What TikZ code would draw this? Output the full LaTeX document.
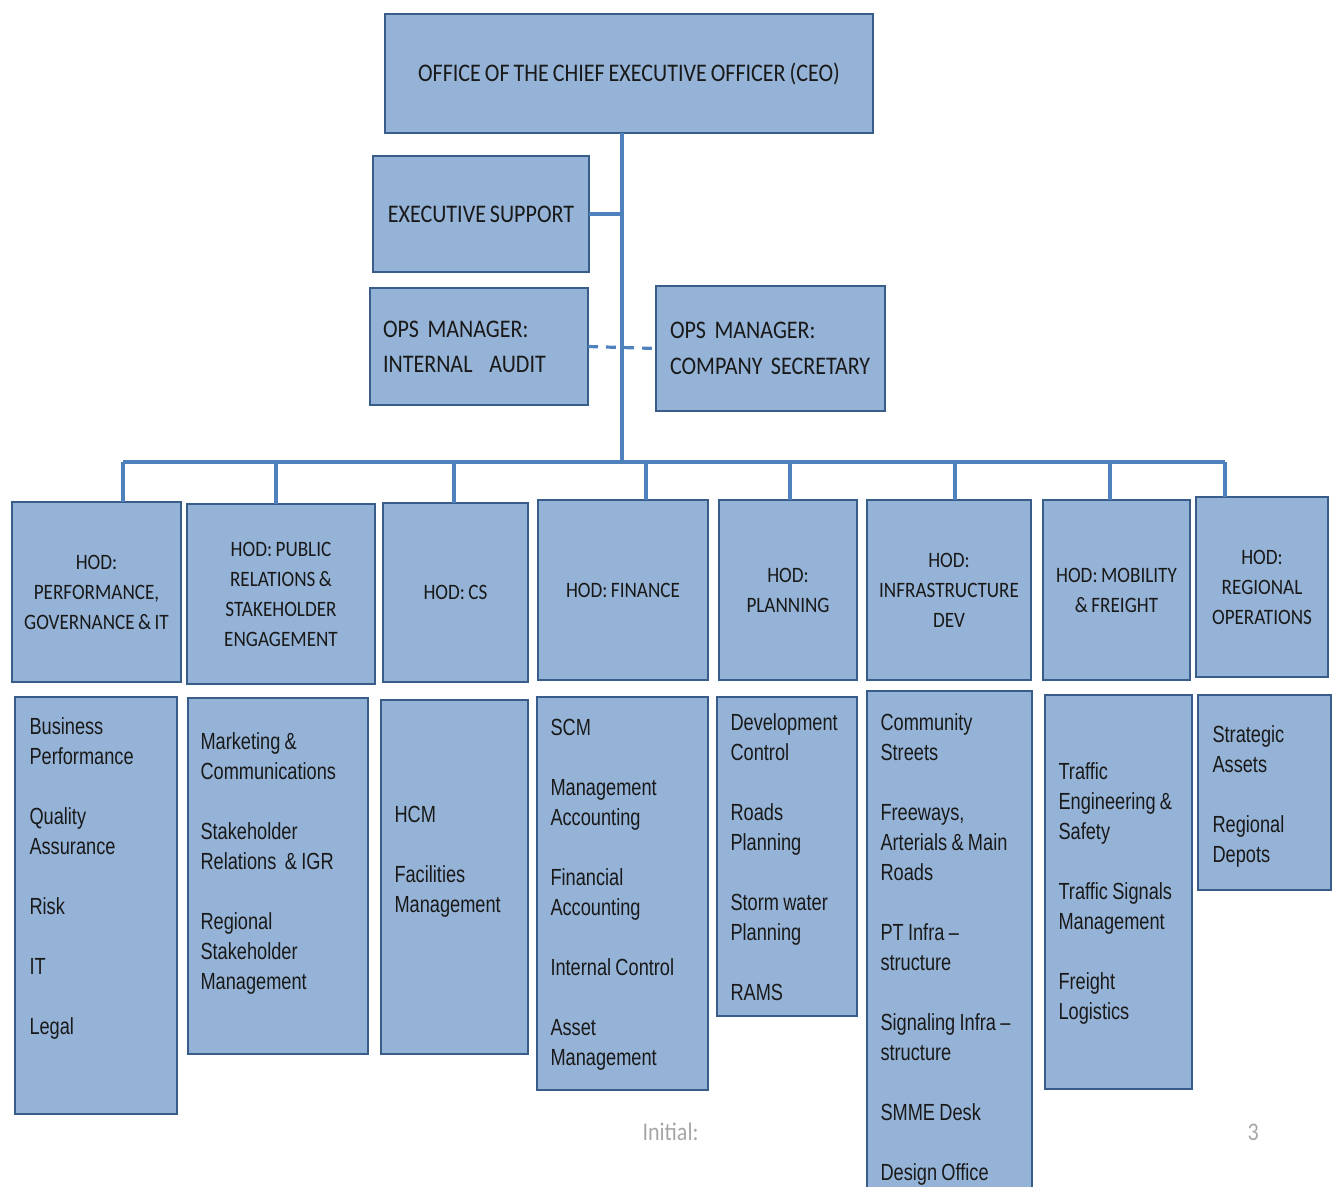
\documentclass[tikz,border=0pt]{standalone}
\usepackage{fontspec}
\setmainfont{Carlito}[FakeStretch=0.87, WordSpace=0.8]
\newfontfamily\listfont{Liberation Sans}[FakeStretch=0.78, WordSpace=0.85]

\definecolor{boxfill}{HTML}{95B3D7}
\definecolor{boxline}{HTML}{385D8A}
\definecolor{linkline}{HTML}{4F81BD}
\definecolor{footgray}{HTML}{A6A6A6}

\tikzset{every picture/.style={line width=0.75pt}}
\tikzset{
  unitbox/.style={draw=boxline, fill=boxfill, line width=2pt, inner sep=0pt, outer sep=0pt, anchor=north west, text=black!90},
  headtext/.style={font=\fontsize{19}{26}\selectfont, align=center},
  hodtext/.style={font=\fontsize{16.5}{22.5}\selectfont, align=center},
  listtext/.style={font=\listfont\fontsize{17.5}{22.5}\selectfont, align=left, anchor=north west, inner sep=0pt, text=black!90},
  link/.style={draw=linkline, line width=2.4pt},
}

\begin{document}
\begin{tikzpicture}[x=0.75pt,y=0.75pt,yscale=-1,xscale=1]
\useasboundingbox (0,0) rectangle (1335,1187);

%Shape: Rectangle [CEO]
\node [unitbox, headtext, minimum width={(873-385)*0.75pt}, minimum height={(133-14)*0.75pt}] (ceo) at (385,14) {OFFICE OF THE CHIEF EXECUTIVE OFFICER (CEO)};
%Shape: Rectangle [executive support]
\node [unitbox, headtext, minimum width={(589-373)*0.75pt}, minimum height={(272-156)*0.75pt}] (exec) at (373,156) {EXECUTIVE SUPPORT};
%Shape: Rectangle [internal audit]
\node [unitbox, font=\fontsize{19}{26.25}\selectfont, align=left, inner xsep=9.75pt, text width={(218-26)*0.75pt}, minimum height={(405-288)*0.75pt}] (audit) at (370,288) {OPS MANAGER:\\INTERNAL~ AUDIT};
%Shape: Rectangle [company secretary]
\node [unitbox, font=\fontsize{19}{27}\selectfont, align=left, inner xsep=10.5pt, text width={(229-28)*0.75pt}, minimum height={(411-286)*0.75pt}] (secretary) at (656,286) {OPS MANAGER:\\COMPANY SECRETARY};

% HOD row
\node [unitbox, hodtext, minimum width={(181-12)*0.75pt}, minimum height={180*0.75pt}] (perf) at (12,502) {HOD:\\PERFORMANCE,\\GOVERNANCE \& IT};
\node [unitbox, hodtext, minimum width={(375-187)*0.75pt}, minimum height={180*0.75pt}] (pr) at (187,504) {HOD: PUBLIC\\RELATIONS \&\\STAKEHOLDER\\ENGAGEMENT};
\node [unitbox, hodtext, minimum width={(528-383)*0.75pt}, minimum height={179*0.75pt}] (cs) at (383,503) {HOD: CS};
\node [unitbox, hodtext, minimum width={(708-538)*0.75pt}, minimum height={180*0.75pt}] (finance) at (538,500) {HOD: FINANCE};
\node [unitbox, hodtext, minimum width={(857-719)*0.75pt}, minimum height={180*0.75pt}] (planning) at (719,500) {HOD:\\PLANNING};
\node [unitbox, hodtext, minimum width={(1031-867)*0.75pt}, minimum height={180*0.75pt}] (infra) at (867,500) {HOD:\\INFRASTRUCTURE\\DEV};
\node [unitbox, hodtext, minimum width={(1190-1043)*0.75pt}, minimum height={180*0.75pt}] (mobility) at (1043,500) {HOD: MOBILITY\\\& FREIGHT};
\node [unitbox, hodtext, minimum width={(1328-1196)*0.75pt}, minimum height={180*0.75pt}] (regional) at (1196,497) {HOD:\\REGIONAL\\OPERATIONS};

% Unit boxes
\node [unitbox, minimum width={(177-15)*0.75pt}, minimum height={(1114-697)*0.75pt}] (perfunits) at (15,697) {};
\node [unitbox, minimum width={(368-188)*0.75pt}, minimum height={(1054-698)*0.75pt}] (prunits) at (188,698) {};
\node [unitbox, minimum width={(528-381)*0.75pt}, minimum height={(1054-700)*0.75pt}] (csunits) at (381,700) {};
\node [unitbox, minimum width={(708-537)*0.75pt}, minimum height={(1090-697)*0.75pt}] (financeunits) at (537,697) {};
\node [unitbox, minimum width={(857-717)*0.75pt}, minimum height={(1016-697)*0.75pt}] (planningunits) at (717,697) {};
\node [unitbox, minimum width={(1032-867)*0.75pt}, minimum height={(1200-691)*0.75pt}] (infraunits) at (867,691) {};
\node [unitbox, minimum width={(1192-1045)*0.75pt}, minimum height={(1089-695)*0.75pt}] (mobilityunits) at (1045,695) {};
\node [unitbox, minimum width={(1331-1198)*0.75pt}, minimum height={(890-695)*0.75pt}] (regionalunits) at (1198,695) {};

% Text Node
\node [listtext] (perflist) at (29,717) {Business\\Performance\\[22.5pt]Quality\\Assurance\\[22.5pt]Risk\\[22.5pt]IT\\[22.5pt]Legal};
% Text Node
\node [listtext] (prlist) at (200,732) {Marketing \&\\Communications\\[22.5pt]Stakeholder\\Relations~ \& IGR\\[22.5pt]Regional\\Stakeholder\\Management};
% Text Node
\node [listtext] (cslist) at (394,806) {HCM\\[22.5pt]Facilities\\Management};
% Text Node
\node [listtext] (financelist) at (550,719) {SCM\\[22.5pt]Management\\Accounting\\[22.5pt]Financial\\Accounting\\[22.5pt]Internal Control\\[22.5pt]Asset\\Management};
% Text Node
\node [listtext] (planninglist) at (730,713) {Development\\Control\\[22.5pt]Roads\\Planning\\[22.5pt]Storm water\\Planning\\[22.5pt]RAMS};
% Text Node
\node [listtext] (infralist) at (880,713) {Community\\Streets\\[22.5pt]Freeways,\\Arterials \& Main\\Roads\\[22.5pt]PT Infra \textendash\\structure\\[22.5pt]Signaling Infra \textendash\\structure\\[22.5pt]SMME Desk\\[22.5pt]Design Office};
% Text Node
\node [listtext] (mobilitylist) at (1058,762) {Traffic\\Engineering \&\\Safety\\[22.5pt]Traffic Signals\\Management\\[22.5pt]Freight\\Logistics};
% Text Node
\node [listtext] (regionallist) at (1212,725) {Strategic\\Assets\\[22.5pt]Regional\\Depots};

%Straight Lines [trunk and bus]
\coordinate (hub) at (622,462);
\draw [link] (ceo.south -| hub) -- (hub);
\draw [link] (exec.east) -- (exec.east -| hub);
\draw [link, dash pattern=on 7.5pt off 6pt] (audit.east) -- (secretary.west);
\draw [link] (123,462) -- (1225,462);
\foreach \n/\x in {perf/123, pr/276, cs/454, finance/646, planning/790, infra/955, mobility/1110, regional/1225}
  \draw [link] (\x,462) -- (\x,462 |- \n.north);

% Text Node
\node [font=\fontsize{19}{22}\selectfont, text=footgray, anchor=west, inner sep=0pt] (initial) at (642,1132) {Initial:};
% Text Node
\node [font=\fontsize{19}{22}\selectfont, text=footgray, anchor=west, inner sep=0pt] (page) at (1247,1132) {3};

\end{tikzpicture}
\end{document}
